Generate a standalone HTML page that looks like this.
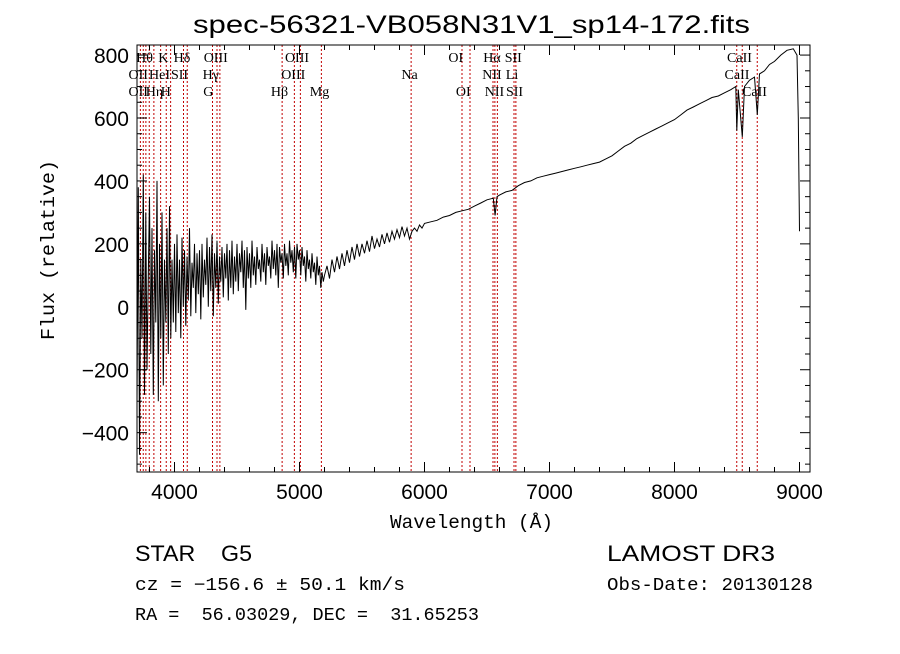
<!DOCTYPE html>
<html><head><meta charset="utf-8"><style>
body{margin:0;background:#fff;width:900px;height:649px;overflow:hidden}
svg text{fill:#000}
</style></head><body>
<svg id="chart" width="900" height="649" xmlns="http://www.w3.org/2000/svg">
<rect width="900" height="649" fill="#fff"/>
<text x="193" y="33" textLength="557" lengthAdjust="spacingAndGlyphs" font-family="Liberation Sans, sans-serif" font-size="25">spec-56321-VB058N31V1_sp14-172.fits</text>
<g id="lines"></g>
<g id="labels" font-family="Liberation Serif, serif" font-size="14"></g>
<g id="ticks"></g>
<polyline id="spec" fill="none" stroke="#000" stroke-width="1"/>
<rect x="137" y="45" width="673" height="427" fill="none" stroke="#000" stroke-width="1"/>
<text x="390" y="528" textLength="163" lengthAdjust="spacingAndGlyphs" font-family="Liberation Mono, monospace" font-size="19">Wavelength (Å)</text>
<text transform="translate(54,340) rotate(-90)" textLength="180" lengthAdjust="spacingAndGlyphs" font-family="Liberation Mono, monospace" font-size="19">Flux (relative)</text>
<text x="135" y="561" textLength="117" lengthAdjust="spacingAndGlyphs" font-family="Liberation Sans, sans-serif" font-size="22" xml:space="preserve">STAR    G5</text>
<text x="607" y="561" textLength="168" lengthAdjust="spacingAndGlyphs" font-family="Liberation Sans, sans-serif" font-size="22">LAMOST DR3</text>
<text x="135" y="590" textLength="270" lengthAdjust="spacingAndGlyphs" font-family="Liberation Mono, monospace" font-size="18" xml:space="preserve">cz = −156.6 ± 50.1 km/s</text>
<text x="607" y="590" textLength="206" lengthAdjust="spacingAndGlyphs" font-family="Liberation Mono, monospace" font-size="18">Obs-Date: 20130128</text>
<text x="135" y="620" textLength="344" lengthAdjust="spacingAndGlyphs" font-family="Liberation Mono, monospace" font-size="18" xml:space="preserve">RA =  56.03029, DEC =  31.65253</text>
</svg>
<script>
const blueStart=3700;
const blueStep=10;
const blueFlux=[-300,380,-470,150,-100,420,-280,300,-200,100,
350,-150,250,-280,180,-50,400,-300,200,-100,
300,-250,150,-50,250,-150,320,-100,150,-50,
200,-80,230,-20,150,-100,220,0,180,-60,
160,20,250,-30,140,60,200,-20,170,40,
180,-40,200,30,150,70,220,0,190,50,
230,-30,170,60,210,10,160,80,190,30,
170,90,200,20,180,60,210,40,160,80,
200,50,170,110,210,60,180,-10,190,90,
170,60,210,100,160,70,190,120,150,80,
200,110,170,70,190,130,160,90,210,120,
180,100,200,60,190,140,170,90,200,130,
170,100,210,140,180,110,190,90,200,150,
180,100,190,130,160,80,180,120,150,90,
170,110,140,70,160,100,130,60,110,80,
100];
const redWaves=[5220,5240,5260,5280,5300,5320,5340,5360,5380,5400,5420,5440,5460,5480,5500,5520,5540,5560,5580,5600,5620,5640,5660,5680,5700,5720,5740,5760,5780,5800,5820,5840,5860,5880,5900,5920,5940,5960,5980,6000,
6050,6100,6150,6200,6250,6300,6350,6400,6450,6500,6550,6565,6580,6600,6650,6700,6750,6800,6850,6900,6950,7000,7050,7100,7150,7200,7250,7300,7350,7400,7450,7500,7550,7600,7650,7700,7750,7800,7850,7900,7950,8000,8050,8100,8150,8200,8250,8300,8350,8400,8450,8490,8498,8510,8542,8560,8600,8640,8662,8680,8720,8760,8800,8850,8900,8950,8980,8990,9000];
const redFlux=[130,90,150,110,160,120,170,130,180,140,190,150,200,160,200,170,210,175,225,185,215,190,230,200,235,205,240,215,245,220,255,225,250,215,240,250,240,260,250,265,
270,275,285,290,300,305,310,320,330,340,345,290,350,355,365,370,385,395,400,410,415,420,425,430,435,440,445,450,455,460,470,480,495,510,520,535,545,555,565,575,585,595,610,625,635,645,655,665,670,680,690,700,560,690,540,700,720,730,610,740,750,770,780,800,815,820,800,600,240];
const xTicks=[4000,5000,6000,7000,8000,9000];
const yTicks=[-400,-200,0,200,400,600,800];
const lineWaves=[3727,3750,3771,3798,3835,3889,3934,3969,4072,4102,4304,4340,4363,4861,4959,5007,5175,5893,6300,6364,6548,6563,6583,6716,6731,8498,8542,8662];
const lineLabels=["Hθ","K","Hδ","OIII","OIII","OI","Hα","SII","CaII","OII","HeI","SII","Hγ","OIII","Na","NII","Li","CaII","OII","Hη","H","G","Hβ","Mg","OI","NII","SII","CaII"];
const labelRows=[0,0,0,0,0,0,0,0,0,1,1,1,1,1,1,1,1,1,2,2,2,2,2,2,2,2,2,2];
const labelWaves=[3760,3910,4060,4330,4980,6250,6540,6710,8520,3710,3880,4040,4290,4950,5880,6540,6700,8500,3710,3840,3930,4270,4840,5160,6310,6560,6720,8640];
const X0=137,X1=810,Y0=45,Y1=472,WMIN=3700,WMAX=9084,FMIN=-525,FMAX=832;
const xs=w=>X0+(w-WMIN)/(WMAX-WMIN)*(X1-X0);
const ys=f=>Y1-(f-FMIN)/(FMAX-FMIN)*(Y1-Y0);
const NS="http://www.w3.org/2000/svg";
function mk(t,a,p){const e=document.createElementNS(NS,t);for(const k in a)e.setAttribute(k,a[k]);p.appendChild(e);return e;}
const pts=[];
blueFlux.forEach((f,i)=>pts.push(xs(blueStart+i*blueStep).toFixed(1)+','+ys(f).toFixed(1)));
redWaves.forEach((w,i)=>pts.push(xs(w).toFixed(1)+','+ys(redFlux[i]).toFixed(1)));
document.getElementById('spec').setAttribute('points',pts.join(' '));
const lg=document.getElementById('lines');
lineWaves.forEach(w=>{const l=mk('line',{x1:xs(w),x2:xs(w),y1:Y0,y2:Y1,stroke:'#c00000','stroke-width':1,'stroke-dasharray':'2,2'},lg);

});
const lb=document.getElementById('labels');
lineLabels.forEach((s,i)=>{const t=mk('text',{x:xs(labelWaves[i]),y:62+labelRows[i]*17,'text-anchor':'middle'},lb);t.textContent=s;

});
const tg=document.getElementById('ticks');
for(let w=3800;w<=9000;w+=200){const maj=w%1000===0;
mk('line',{x1:xs(w),x2:xs(w),y1:Y1,y2:Y1-(maj?10:5),stroke:'#000'},tg);
mk('line',{x1:xs(w),x2:xs(w),y1:Y0,y2:Y0+(maj?10:5),stroke:'#000'},tg);}
for(let f=-500;f<=800;f+=50){const maj=f%200===0;
mk('line',{x1:X0,x2:X0+(maj?10:5),y1:ys(f),y2:ys(f),stroke:'#000'},tg);
mk('line',{x1:X1,x2:X1-(maj?10:5),y1:ys(f),y2:ys(f),stroke:'#000'},tg);}
xTicks.forEach(w=>{const t=mk('text',{x:xs(w),y:Y1+27,'text-anchor':'middle','font-family':'Liberation Sans, sans-serif','font-size':21},tg);t.textContent=w;

});
yTicks.forEach(f=>{const t=mk('text',{x:X0-8,y:ys(f)+8,'text-anchor':'end','font-family':'Liberation Sans, sans-serif','font-size':21},tg);t.textContent=f<0?'−'+(-f):f;

});
</script>
</body></html>
